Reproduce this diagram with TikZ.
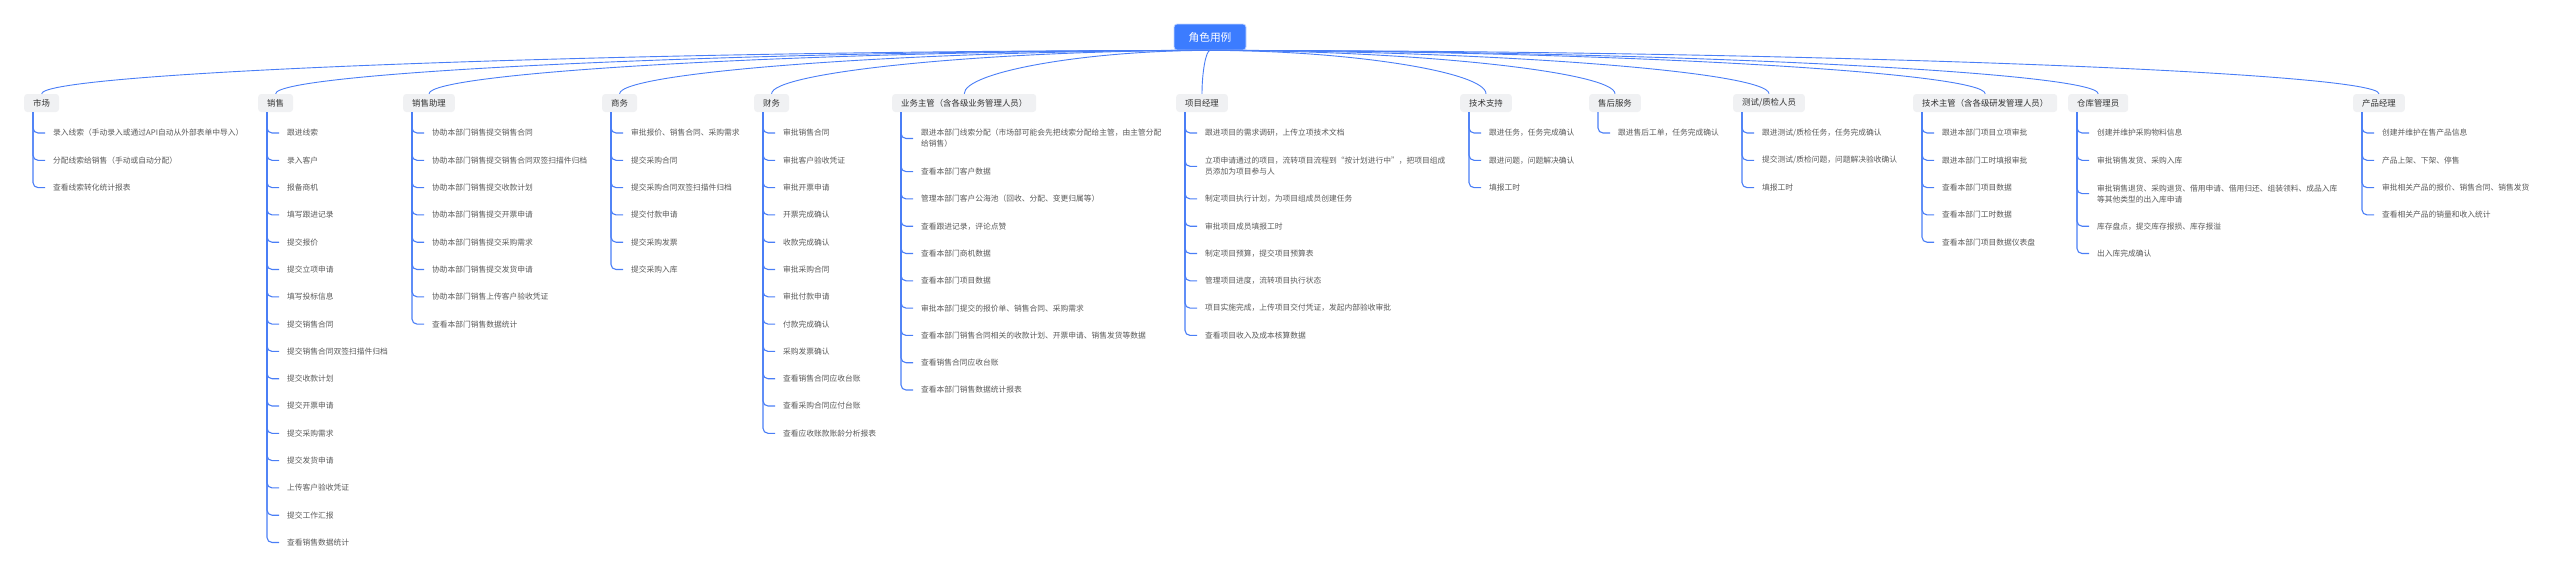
\documentclass[tikz,border=0pt]{standalone}
\usepackage{fontspec}
\newfontfamily\cjk{Noto Sans CJK SC}
\usetikzlibrary{calc}
\definecolor{linkblue}{HTML}{4A7EF6}
\definecolor{rootblue}{HTML}{3C7CFF}
\definecolor{rolegray}{HTML}{F0F1F3}
\definecolor{roletext}{HTML}{333333}
\definecolor{itemtext}{HTML}{595959}
\begin{document}
\begin{tikzpicture}[x=1pt, y=-1pt]
        \tikzstyle{root}=[fill=rootblue, draw=rootblue!30, line width=0.8pt, rounded corners=3pt, text=white, font=\cjk\fontsize{10.7pt}{12pt}\selectfont, minimum width=72pt, minimum height=26pt]
        \tikzstyle{role}=[fill=rolegray, rounded corners=3pt, text=roletext, font=\cjk\fontsize{8.4pt}{10pt}\selectfont, minimum height=18pt, inner xsep=9pt, inner ysep=0pt, anchor=west]
        \tikzstyle{item}=[text=itemtext, font=\cjk\fontsize{7.75pt}{11pt}\selectfont, inner xsep=8pt, inner ysep=1pt, align=left, anchor=west]
        \tikzstyle{link}=[linkblue, line width=0.9pt]
        \tikzstyle{branch}=[linkblue, line width=1.1pt, rounded corners=5pt]

        \useasboundingbox (0,0) rectangle (2560,570);

        \node[root](root) at (1210,37){角色用例};

        \node[role](sc) at (24,103){市场};
        \node[role](xs) at (258,103){销售};
        \node[role](zl) at (403,103){销售助理};
        \node[role](sw) at (602,103){商务};
        \node[role](cw) at (754,103){财务};
        \node[role](zg) at (892,103){业务主管（含各级业务管理人员）};
        \node[role](xm) at (1176,103){项目经理};
        \node[role](js) at (1460,103){技术支持};
        \node[role](sh) at (1589,103){售后服务};
        \node[role](cs) at (1733,103){测试/质检人员};
        \node[role](jz) at (1913,103){技术主管（含各级研发管理人员）};
        \node[role](ck) at (2068,103){仓库管理员};
        \node[role](cp) at (2353,103){产品经理};

        \foreach \n in {sc,xs,zl,sw,cw,zg,xm,js,sh,cs,jz,ck,cp}{
            \draw[link] (root.south) .. controls ($(root.south)!0.5!(\n.north |- root.south)$) and ($(\n.north)+(0,-22)$) .. (\n.north);
            \coordinate (\n-t) at ([xshift=9pt]\n.south west);
        }

        % 市场
        \foreach \t [count=\i] in {录入线索（手动录入或通过API自动从外部表单中导入）, 分配线索给销售（手动或自动分配）, 查看线索转化统计报表}{
            \node[item](sc-\i) at (45,{133+(\i-1)*27.3}){\t};
            \draw[branch] (sc-t) |- (sc-\i.west);
        }

        % 销售
        \foreach \t [count=\i] in {跟进线索, 录入客户, 报备商机, 填写跟进记录, 提交报价, 提交立项申请, 填写投标信息, 提交销售合同, 提交销售合同双签扫描件归档, 提交收款计划, 提交开票申请, 提交采购需求, 提交发货申请, 上传客户验收凭证, 提交工作汇报, 查看销售数据统计}{
            \node[item](xs-\i) at (279,{133+(\i-1)*27.3}){\t};
            \draw[branch] (xs-t) |- (xs-\i.west);
        }

        % 销售助理
        \foreach \t [count=\i] in {协助本部门销售提交销售合同, 协助本部门销售提交销售合同双签扫描件归档, 协助本部门销售提交收款计划, 协助本部门销售提交开票申请, 协助本部门销售提交采购需求, 协助本部门销售提交发货申请, 协助本部门销售上传客户验收凭证, 查看本部门销售数据统计}{
            \node[item](zl-\i) at (424,{133+(\i-1)*27.3}){\t};
            \draw[branch] (zl-t) |- (zl-\i.west);
        }

        % 商务
        \foreach \t [count=\i] in {审批报价、销售合同、采购需求, 提交采购合同, 提交采购合同双签扫描件归档, 提交付款申请, 提交采购发票, 提交采购入库}{
            \node[item](sw-\i) at (623,{133+(\i-1)*27.3}){\t};
            \draw[branch] (sw-t) |- (sw-\i.west);
        }

        % 财务
        \foreach \t [count=\i] in {审批销售合同, 审批客户验收凭证, 审批开票申请, 开票完成确认, 收款完成确认, 审批采购合同, 审批付款申请, 付款完成确认, 采购发票确认, 查看销售合同应收台账, 查看采购合同应付台账, 查看应收账款账龄分析报表}{
            \node[item](cw-\i) at (775,{133+(\i-1)*27.3}){\t};
            \draw[branch] (cw-t) |- (cw-\i.west);
        }

        % 业务主管
        \foreach \t/\dy [count=\i] in {{跟进本部门线索分配（市场部可能会先把线索分配给主管，由主管分配\\给销售）}/5.5, 查看本部门客户数据/11.3, 管理本部门客户公海池（回收、分配、变更归属等）/11.3, 查看跟进记录，评论点赞/11.3, 查看本部门商机数据/11.3, 查看本部门项目数据/11.3, 审批本部门提交的报价单、销售合同、采购需求/11.3, 查看本部门销售合同相关的收款计划、开票申请、销售发货等数据/11.3, 查看销售合同应收台账/11.3, 查看本部门销售数据统计报表/11.3}{
            \node[item](zg-\i) at (913,{133+(\i-1)*27.3+\dy}){\t};
            \draw[branch] (zg-t) |- (zg-\i.west);
        }

        % 项目经理
        \foreach \t/\dy [count=\i] in {跟进项目的需求调研，上传立项技术文档/0, {立项申请通过的项目，流转项目流程到“按计划进行中”，把项目组成\\员添加为项目参与人}/6, 制定项目执行计划，为项目组成员创建任务/11.3, 审批项目成员填报工时/11.3, 制定项目预算，提交项目预算表/11.3, 管理项目进度，流转项目执行状态/11.3, 项目实施完成，上传项目交付凭证，发起内部验收审批/11.3, 查看项目收入及成本核算数据/11.3}{
            \node[item](xm-\i) at (1197,{133+(\i-1)*27.3+\dy}){\t};
            \draw[branch] (xm-t) |- (xm-\i.west);
        }

        % 技术支持
        \foreach \t [count=\i] in {跟进任务，任务完成确认, 跟进问题，问题解决确认, 填报工时}{
            \node[item](js-\i) at (1481,{133+(\i-1)*27.3}){\t};
            \draw[branch] (js-t) |- (js-\i.west);
        }

        % 售后服务
        \node[item](sh-1) at (1610,133){跟进售后工单，任务完成确认};
        \draw[branch] (sh-t) |- (sh-1.west);

        % 测试/质检人员
        \foreach \t [count=\i] in {跟进测试/质检任务，任务完成确认, 提交测试/质检问题，问题解决验收确认, 填报工时}{
            \node[item](cs-\i) at (1754,{133+(\i-1)*27.3}){\t};
            \draw[branch] (cs-t) |- (cs-\i.west);
        }

        % 技术主管
        \foreach \t [count=\i] in {跟进本部门项目立项审批, 跟进本部门工时填报审批, 查看本部门项目数据, 查看本部门工时数据, 查看本部门项目数据仪表盘}{
            \node[item](jz-\i) at (1934,{133+(\i-1)*27.3}){\t};
            \draw[branch] (jz-t) |- (jz-\i.west);
        }

        % 仓库管理员
        \foreach \t/\dy [count=\i] in {创建并维护采购物料信息/0, 审批销售发货、采购入库/0, {审批销售退货、采购退货、借用申请、借用归还、组装领料、成品入库\\等其他类型的出入库申请}/6, 库存盘点，提交库存报损、库存报溢/11.3, 出入库完成确认/11.3}{
            \node[item](ck-\i) at (2089,{133+(\i-1)*27.3+\dy}){\t};
            \draw[branch] (ck-t) |- (ck-\i.west);
        }

        % 产品经理
        \foreach \t [count=\i] in {创建并维护在售产品信息, 产品上架、下架、停售, 审批相关产品的报价、销售合同、销售发货, 查看相关产品的销量和收入统计}{
            \node[item](cp-\i) at (2374,{133+(\i-1)*27.3}){\t};
            \draw[branch] (cp-t) |- (cp-\i.west);
        }

\end{tikzpicture}
\end{document}
